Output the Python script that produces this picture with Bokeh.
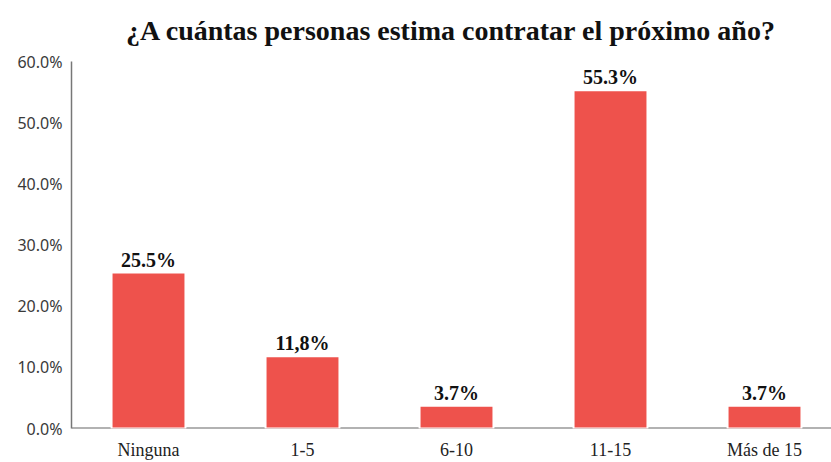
from bokeh.plotting import figure
from bokeh.models import ColumnDataSource, Range1d, FixedTicker, Span
from bokeh.core.properties import value
from bokeh.embed import file_html
from bokeh.resources import INLINE

title_text = "¿A cuántas personas estima contratar el próximo año?"
categories = ["Ninguna", "1-5", "6-10", "11-15", "Más de 15"]
values = [25.5, 11.8, 3.7, 55.3, 3.7]
value_labels = ["25.5%", "11,8%", "3.7%", "55.3%", "3.7%"]
y_ticks = [0, 10, 20, 30, 40, 50, 60]
y_tick_labels = ["0.0%", "10.0%", "20.0%", "30.0%", "40.0%", "50.0%", "60.0%"]

xs = list(range(len(categories)))
src = ColumnDataSource(dict(x=xs, top=values, label=value_labels))

p = figure(width=831, height=462, output_backend="svg", toolbar_location=None,
           x_range=Range1d(-0.5, 4.435), y_range=Range1d(0, 60),
           min_border_left=71, min_border_right=0, min_border_top=61, min_border_bottom=0,
           title=title_text)
p.title.align = "center"
p.title.vertical_align = "top"
p.title.text_font = "Liberation Serif"
p.title.text_font_size = "28px"
p.title.text_font_style = "bold"
p.title.text_color = "#111111"
p.title.standoff = 27

p.outline_line_color = None
p.grid.visible = False
p.background_fill_color = "white"
p.border_fill_color = "white"

baseline = Span(location=0, dimension="width", line_color="#666666", line_width=2, level="underlay")
p.add_layout(baseline)

p.vbar(x="x", top="top", width=0.48, bottom=0, source=src,
       fill_color="#EE524C", line_color="white", line_width=2)

p.text(x="x", y="top", text="label", source=src, y_offset=-2,
       text_align="center", text_baseline="bottom",
       text_font=value("Liberation Serif"), text_font_style="bold",
       text_font_size="20px", text_color="#111111")

p.xaxis.ticker = FixedTicker(ticks=xs)
p.xaxis.major_label_overrides = {i: c for i, c in zip(xs, categories)}
p.xaxis.axis_line_color = None
p.xaxis.major_tick_line_color = None
p.xaxis.minor_tick_line_color = None
p.xaxis.major_tick_out = 0
p.xaxis.major_tick_in = 0
p.xaxis.major_label_standoff = 11
p.xaxis.major_label_text_font = "Liberation Serif"
p.xaxis.major_label_text_font_size = "18px"
p.xaxis.major_label_text_color = "#222222"

p.yaxis.ticker = FixedTicker(ticks=y_ticks)
p.yaxis.major_label_overrides = {t: l for t, l in zip(y_ticks, y_tick_labels)}
p.yaxis.axis_line_color = "#777777"
p.yaxis.axis_line_width = 1.5
p.yaxis.major_tick_line_color = None
p.yaxis.minor_tick_line_color = None
p.yaxis.major_tick_out = 0
p.yaxis.major_tick_in = 0
p.yaxis.major_label_standoff = 9
p.yaxis.major_label_text_font = "Noto Sans"
p.yaxis.major_label_text_font_size = "16px"
p.yaxis.major_label_text_color = "#3a3a3a"

open("out.html", "w").write(file_html(p, INLINE))
